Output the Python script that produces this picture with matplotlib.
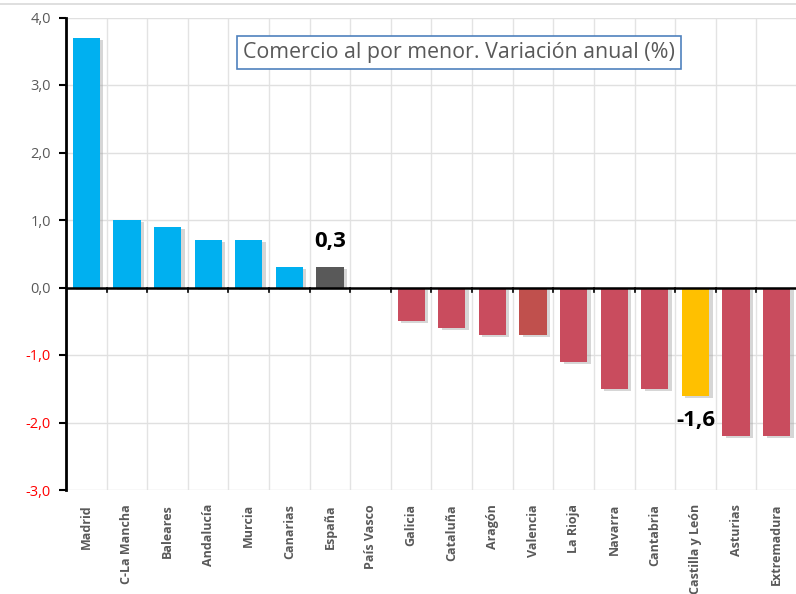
import matplotlib
matplotlib.use("Agg")
import matplotlib.pyplot as plt
import matplotlib.patheffects as pe
import numpy as np

categories = ["Madrid", "C-La Mancha", "Baleares", "Andalucía", "Murcia", "Canarias",
              "España", "País Vasco", "Galicia", "Cataluña", "Aragón", "Valencia",
              "La Rioja", "Navarra", "Cantabria", "Castilla y León", "Asturias", "Extremadura"]
values = [3.7, 1.0, 0.9, 0.7, 0.7, 0.3, 0.3, 0.0, -0.5, -0.6, -0.7, -0.7,
          -1.1, -1.5, -1.5, -1.6, -2.2, -2.2]
yticks = [-3, -2, -1, 0, 1, 2, 3, 4]
ytick_labels = ["-3,0", "-2,0", "-1,0", "0,0", "1,0", "2,0", "3,0", "4,0"]

BLUE = "#00B0F0"
RED = "#C94C5E"
colors = []
for c, v in zip(categories, values):
    if c == "España":
        colors.append("#595959")
    elif c == "Castilla y León":
        colors.append("#FFC000")
    elif c == "Valencia":
        colors.append("#C0504D")
    elif v >= 0:
        colors.append(BLUE)
    else:
        colors.append(RED)

plt.rcParams['font.family'] = ['Open Sans', 'DejaVu Sans']

fig = plt.figure(figsize=(7.96, 5.94), dpi=100)
ax = fig.add_axes([66/796, 1 - 490/594, 731/796, (490 - 17.5)/594])

x = np.arange(len(categories))
bars = ax.bar(x, values, width=0.67, color=colors, zorder=3,
              path_effects=[pe.SimplePatchShadow(offset=(2.5, -1.5), shadow_rgbFace="#9a9a9a", alpha=0.4), pe.Normal()])

ax.set_xlim(-0.5, len(categories) - 0.5)
ax.set_ylim(-3, 4)

# grid
for b in np.arange(-0.5, len(categories), 1.0):
    ax.axvline(b, color="#e3e3e3", lw=1, zorder=0)
for yv in yticks:
    ax.axhline(yv, color="#e0e0e0", lw=1, zorder=0)

ax.axhline(0, color="black", lw=1.8, zorder=4)
for b in np.arange(0.5, len(categories), 1.0):
    ax.plot([b, b], [0, -0.07], color="black", lw=1.2, zorder=4, clip_on=False)

for s in ["top", "right", "bottom"]:
    ax.spines[s].set_visible(False)
ax.spines["left"].set_linewidth(2)
ax.spines["left"].set_color("black")

ax.set_yticks(yticks)
ax.set_yticklabels(ytick_labels, fontsize=10.5)
for lab, v in zip(ax.get_yticklabels(), yticks):
    lab.set_color("#FF0000" if v < 0 else "#595959")
ax.tick_params(axis="y", length=5, width=1.5, color="black", pad=6)

ax.set_xticks(x)
ax.tick_params(axis="x", length=0, pad=10)
ax.set_xticklabels(categories, rotation=90, fontsize=9, fontweight="bold", color="#595959")

ax.text(6, 0.3 + 0.22, "0,3", ha="center", va="bottom", fontsize=16, fontweight="bold", color="black")
ax.text(15.02, -1.6 - 0.22, "-1,6", ha="center", va="top", fontsize=16, fontweight="bold", color="black")

fig.text((234 + 684) / 2 / 796, 1 - 52.5 / 594, "Comercio al por menor. Variación anual (%)",
         ha="center", va="center", fontsize=15.4, color="#595959",
         bbox=dict(boxstyle="square,pad=0.3", fc="white", ec="#4F81BD", lw=1.2))

# top border line
fig.add_artist(plt.Line2D([0, 1], [1 - 4/594, 1 - 4/594], color="#d9d9d9", lw=1.2))

fig.savefig("out.png", dpi=100)
